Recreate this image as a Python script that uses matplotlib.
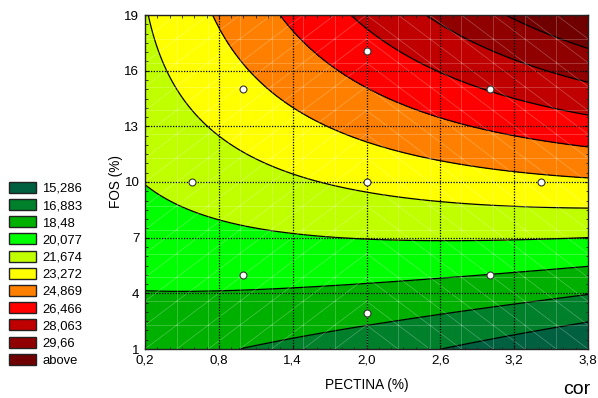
import numpy as np
import matplotlib
matplotlib.use("Agg")
import matplotlib.pyplot as plt
from matplotlib.patches import Patch
from matplotlib.ticker import FixedLocator, MultipleLocator

plt.rcParams['font.family'] = ['Liberation Sans', 'DejaVu Sans']

# ---- data ----
# experimental design points (PECTINA %, FOS %)
design_pectina = [0.586, 1.0, 1.0, 2.0, 2.0, 2.0, 3.0, 3.0, 3.414]
design_fos = [10.0, 5.0, 15.0, 2.93, 10.0, 17.07, 5.0, 15.0, 10.0]

# contour levels and legend labels
levels = [15.286, 16.883, 18.48, 20.077, 21.674, 23.272, 24.869, 26.466, 28.063, 29.66]
legend_labels = ["15,286", "16,883", "18,48", "20,077", "21,674", "23,272",
                 "24,869", "26,466", "28,063", "29,66", "above"]
band_colors = ["#006040", "#00802a", "#00b000", "#00ff00", "#c0ff00", "#ffff00",
               "#ff8000", "#ff0000", "#c00000", "#900000", "#700000"]

# points (pectina, fos) per level
trace_pectina = [2.62, 3.19, 3.80,
                 0.99, 2.0, 2.6, 3.79,
                 0.2, 0.57, 1.4, 2.0, 3.0, 3.8,
                 0.2, 0.79, 1.4, 2.0, 2.57, 3.79,
                 0.254, 0.40, 0.73, 1.05, 1.40, 2.0, 2.6, 3.8,
                 0.77, 0.81, 1.05, 1.40, 2.0, 2.6, 3.19, 3.79,
                 1.30, 1.40, 2.0, 2.6, 3.19, 3.79,
                 1.87, 1.95, 2.6, 3.0, 3.79,
                 2.47, 2.6, 3.19, 3.79,
                 3.1, 3.19, 3.79]
trace_fos = [1.0, 1.75, 2.46,
             1.0, 2.27, 2.94, 3.9,
             4.23, 4.13, 4.34, 4.53, 5.0, 5.42,
             9.68, 8.06, 7.25, 6.93, 6.82, 6.98,
             19.0, 16.04, 12.97, 11.35, 10.48, 9.46, 8.92, 8.6,
             19.0, 17.8, 15.3, 13.5, 12.16, 11.2, 10.54, 10.2,
             19.0, 18.5, 15.13, 13.5, 12.7, 11.9,
             19.0, 18.35, 16.2, 15.0, 13.6,
             19.0, 18.46, 16.7, 15.4,
             19.0, 18.7, 17.2]
trace_level = ([15.286] * 3 + [16.883] * 4 + [18.48] * 6 + [20.077] * 6 +
               [21.674] * 8 + [23.272] * 8 + [24.869] * 6 + [26.466] * 5 +
               [28.063] * 4 + [29.66] * 3)

x_ticks = [0.2, 0.8, 1.4, 2.0, 2.6, 3.2, 3.8]
y_ticks = [1, 4, 7, 10, 13, 16, 19]

# ---- quadratic response surface fitted to the traced contours ----
tx = np.array(trace_pectina); ty = np.array(trace_fos); tz = np.array(trace_level)
A = np.column_stack([np.ones_like(tx), tx, ty, tx**2, ty**2, tx*ty])
coef, *_ = np.linalg.lstsq(A, tz, rcond=None)

def surface(x, y):
    return (coef[0] + coef[1]*x + coef[2]*y + coef[3]*x**2 + coef[4]*y**2 + coef[5]*x*y)

gx = np.linspace(0.2, 3.8, 300)
gy = np.linspace(1, 19, 300)
GX, GY = np.meshgrid(gx, gy)
GZ = surface(GX, GY)

fig = plt.figure(figsize=(5.98, 3.98), dpi=100)
ax = fig.add_axes([145/598, 1-349/398, 443/598, 334/398])

fill_levels = [-1e9] + levels + [1e9]
ax.contourf(GX, GY, GZ, levels=fill_levels, colors=band_colors)
ax.contour(GX, GY, GZ, levels=levels, colors="black", linewidths=0.9)

# faint mesh of the fitted surface
mx = np.linspace(0.2, 3.8, 15)
my = np.linspace(1, 19, 15)
mesh_kw = dict(color="white", alpha=0.25, lw=0.6, zorder=2)
for v in mx:
    ax.plot([v, v], [1, 19], **mesh_kw)
for h in my:
    ax.plot([0.2, 3.8], [h, h], **mesh_kw)
for i in range(14):
    for j in range(14):
        if mx[i] < 2.0 - 1e-9:
            ax.plot([mx[i], mx[i+1]], [my[j], my[j+1]], **mesh_kw)
        else:
            ax.plot([mx[i], mx[i+1]], [my[j+1], my[j]], **mesh_kw)

# major grid
for v in x_ticks[1:-1]:
    ax.axvline(v, color="black", lw=0.9, ls=(0, (1, 1.2)), zorder=3)
for h in y_ticks[1:-1]:
    ax.axhline(h, color="black", lw=0.9, ls=(0, (1, 1.2)), zorder=3)

ax.plot(design_pectina, design_fos, "o", ms=5, mfc="white", mec="#333333", mew=0.8, zorder=5)

ax.set_xlim(0.2, 3.8)
ax.set_ylim(1, 19)
ax.xaxis.set_major_locator(FixedLocator(x_ticks))
ax.yaxis.set_major_locator(FixedLocator(y_ticks))
ax.set_xticklabels([f"{t:.1f}".replace(".", ",") for t in x_ticks], fontsize=9.6)
ax.set_yticklabels([str(t) for t in y_ticks], fontsize=9.6)
ax.xaxis.set_minor_locator(MultipleLocator(0.1))
ax.yaxis.set_minor_locator(MultipleLocator(0.5))
ax.tick_params(which="both", direction="in", top=True, right=True, color="#222222")
ax.tick_params(which="major", length=3, pad=4)
ax.tick_params(which="minor", length=1.8)
for s in ax.spines.values():
    s.set_color("#222222"); s.set_linewidth(1.0)
ax.set_xlabel("PECTINA (%)", fontsize=9.8, labelpad=8)
ax.set_ylabel("FOS (%)", fontsize=9.8, labelpad=1)

handles = [Patch(facecolor=c, edgecolor="#222222", lw=1.0) for c in band_colors]
fig.legend(handles, legend_labels, loc="upper left", bbox_to_anchor=(5/598, 1-178/398),
           frameon=False, fontsize=9.4, handlelength=2.07, handleheight=0.92,
           labelspacing=0.32, handletextpad=0.5, borderaxespad=0, borderpad=0.3)

fig.text(563/598, 1-394/398, "cor", fontsize=14, ha="left", va="baseline")

fig.savefig("out.png", dpi=100)
